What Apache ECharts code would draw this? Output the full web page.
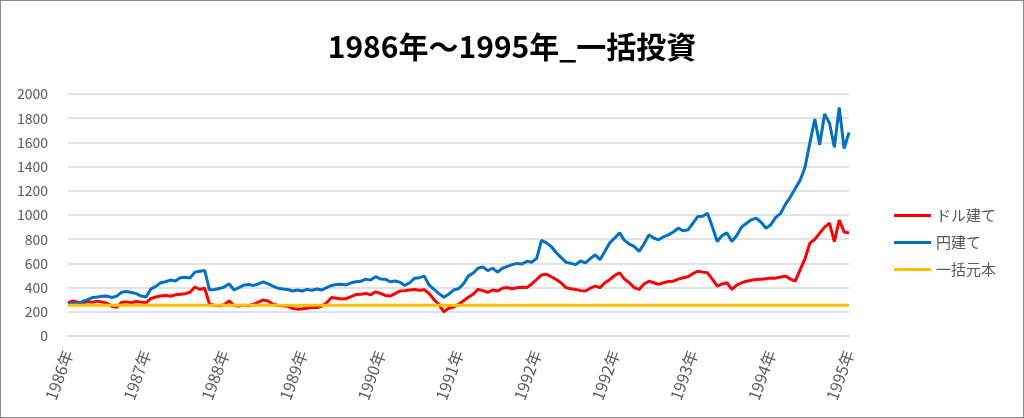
<!DOCTYPE html>
<html><head><meta charset="utf-8">
<script src="https://cdn.jsdelivr.net/npm/echarts@6/dist/echarts.min.js"></script>
<style>
html,body{margin:0;padding:0;background:#fff;}
#c{width:1024px;height:418px;box-sizing:border-box;border:1px solid #8c8c8c;}
</style></head><body>
<div id="c"></div>
<script>
const titleText = '1986年～1995年_一括投資';
const tickLabels = ['1986年','1987年','1988年','1989年','1990年','1991年','1992年','1992年','1993年','1994年','1995年'];
const pointsPerTick = 16;
const seriesNames = ['ドル建て','円建て','一括元本'];
const dollarValues = [275,290,280,272,285,278,288,280,270,245,238,278,282,275,285,280,275,310,322,330,335,328,340,345,350,362,405,385,395,262,255,250,258,290,252,248,255,250,262,280,298,290,262,252,250,245,228,222,225,230,238,235,248,275,318,312,305,310,325,342,345,352,340,365,352,335,330,350,372,375,380,385,378,382,350,300,260,200,230,240,262,290,320,345,385,375,360,380,372,395,400,390,398,402,400,430,467,505,510,490,467,440,400,390,385,375,372,395,412,400,440,467,500,522,470,440,400,385,430,453,440,426,440,450,453,470,481,490,515,535,528,522,470,412,430,440,385,420,440,453,460,467,470,473,480,478,488,495,470,453,549,640,768,800,850,900,932,780,959,860,852];
const yenValues = [262,272,268,285,300,318,322,328,330,318,330,362,368,360,350,330,322,390,410,440,448,462,455,482,486,480,528,535,542,380,385,392,405,432,380,400,420,425,418,430,448,430,412,395,388,385,372,380,372,385,378,388,380,400,418,425,428,422,440,448,452,470,462,490,472,470,448,455,445,418,440,478,482,495,420,385,350,320,345,380,390,430,495,520,560,570,540,560,528,560,575,590,600,595,617,610,640,790,770,740,690,650,610,600,590,620,605,640,670,631,700,770,810,852,790,760,740,699,760,836,810,795,820,836,860,891,870,877,930,986,990,1014,904,781,830,852,781,830,900,932,960,973,940,891,920,980,1014,1090,1150,1220,1287,1396,1600,1793,1580,1834,1760,1560,1888,1550,1683];
const principalValue = 255;

const n = yenValues.length;
const toPairs = arr => arr.map((v, i) => [i, v]);
const principalValues = yenValues.map(() => principalValue);

const chart = echarts.init(document.getElementById('c'), null, {renderer: 'canvas'});
const font = '"Noto Sans CJK JP", "Noto Sans", sans-serif';
chart.setOption({
  animation: false,
  backgroundColor: '#fff',
  textStyle: {fontFamily: font},
  title: {
    text: titleText, left: 'center', top: 26,
    textStyle: {fontFamily: font, fontSize: 30, fontWeight: 'bold', color: '#000'}
  },
  legend: {
    orient: 'vertical', left: 888, top: 202, itemGap: 12,
    itemWidth: 37, itemHeight: 3, icon: 'rect',
    textStyle: {fontFamily: font, fontSize: 15, color: '#595959'},
    data: seriesNames
  },
  grid: {left: 67, right: 174, top: 93, bottom: 81, containLabel: false},
  xAxis: {
    type: 'value', min: 0, max: n - 1, interval: pointsPerTick,
    axisLine: {show: true, lineStyle: {color: '#d9d9d9', width: 1.5}},
    axisTick: {show: false},
    splitLine: {show: false},
    axisLabel: {
      rotate: 70, color: '#595959', fontSize: 16, fontFamily: font, margin: 15,
      formatter: v => tickLabels[Math.round(v / pointsPerTick)] || ''
    }
  },
  yAxis: {
    type: 'value', min: 0, max: 2000, interval: 200,
    axisLine: {show: false}, axisTick: {show: false},
    splitLine: {lineStyle: {color: '#d9d9d9', width: 1.5}},
    axisLabel: {color: '#595959', fontSize: 14, fontFamily: font, margin: 20,
      formatter: v => String(v)}
  },
  series: [
    {name: seriesNames[0], type: 'line', showSymbol: false, data: toPairs(dollarValues),
     lineStyle: {color: '#FF0000', width: 3}, itemStyle: {color: '#FF0000'}},
    {name: seriesNames[1], type: 'line', showSymbol: false, data: toPairs(yenValues),
     lineStyle: {color: '#0070C0', width: 3}, itemStyle: {color: '#0070C0'}},
    {name: seriesNames[2], type: 'line', showSymbol: false, data: toPairs(principalValues),
     lineStyle: {color: '#FFC000', width: 3}, itemStyle: {color: '#FFC000'}}
  ]
});
</script>
</body></html>
